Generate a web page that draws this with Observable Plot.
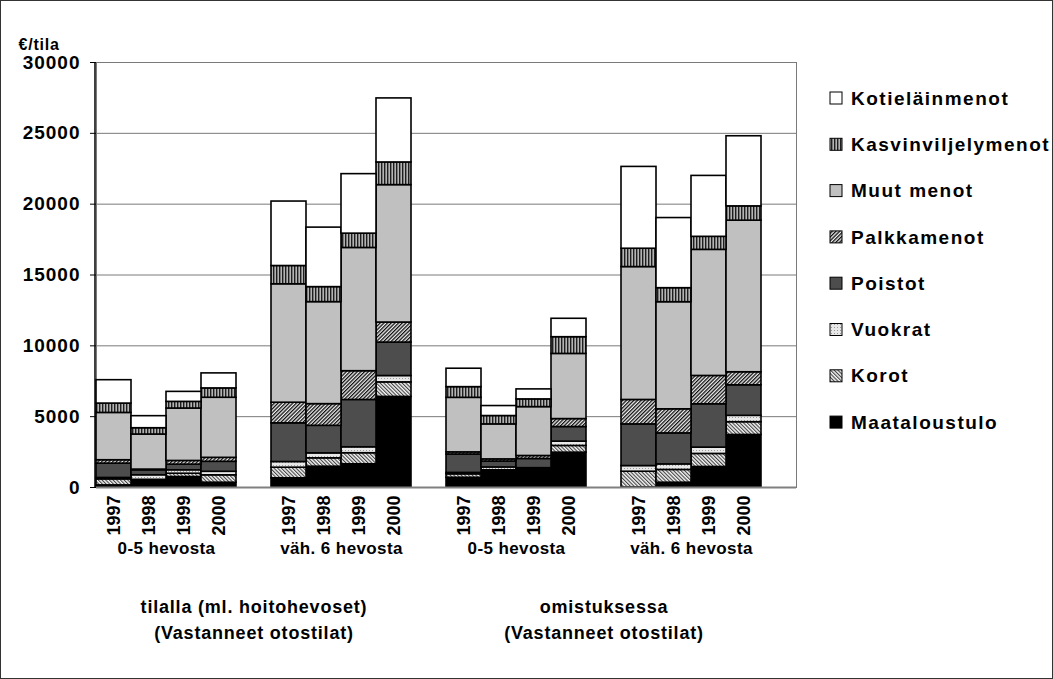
<!DOCTYPE html>
<html>
<head>
<meta charset="utf-8">
<script src="https://cdn.jsdelivr.net/npm/d3@7"></script>
<script src="https://cdn.jsdelivr.net/npm/@observablehq/plot@0.6"></script>
<style>
  html, body { margin: 0; padding: 0; background: white; }
  #chart { width: 1053px; height: 679px; }
</style>
</head>
<body>
<div id="chart"></div>
<script>
// ---- data ----
const years = ["1997", "1998", "1999", "2000"];
const sizeGroups = ["0-5 hevosta", "väh. 6 hevosta", "0-5 hevosta", "väh. 6 hevosta"];
const basisLine1 = ["tilalla (ml. hoitohevoset)", "omistuksessa"];
const basisLine2 = ["(Vastanneet otostilat)", "(Vastanneet otostilat)"];
const yTicks = [0, 5000, 10000, 15000, 20000, 25000, 30000];
const yLabel = "€/tila";
// stack order: bottom to top
const series = ["Maataloustulo", "Korot", "Vuokrat", "Poistot", "Palkkamenot", "Muut menot", "Kasvinviljelymenot", "Kotieläinmenot"];
// values: 4 groups x 4 years (1997..2000)
const maataloustulo      = [150, 495, 740, 340,   650, 1470, 1640, 6395,   690, 1165, 1165, 2460,   0, 340, 1450, 3710];
const korot              = [425, 50, 235, 520,    750, 590, 780, 1025,     240, 50, 100, 475,      1115, 900, 920, 900];
const vuokrat            = [100, 320, 240, 250,   400, 350, 420, 450,      100, 200, 100, 305,     400, 390, 445, 450];
const poistot            = [1010, 350, 400, 705,  2730, 1945, 3340, 2360,  1300, 420, 650, 1030,   2940, 2190, 3060, 2155];
const palkkamenot        = [240, 50, 260, 280,    1455, 1530, 2030, 1415,  150, 150, 210, 560,     1725, 1700, 2000, 920];
const muutMenot          = [3340, 2475, 3700, 4240, 8360, 7200, 8700, 9700, 3850, 2470, 3450, 4600, 9380, 7560, 8900, 10700];
const kasvinviljelymenot = [660, 445, 470, 660,   1290, 1060, 1010, 1600,  755, 590, 545, 1180,    1295, 990, 920, 1010];
const kotielainmenot     = [1650, 850, 705, 1060, 4550, 4200, 4200, 4520,  1300, 705, 705, 1300,   5775, 4950, 4300, 4950];
const seriesValues = [maataloustulo, korot, vuokrat, poistot, palkkamenot, muutMenot, kasvinviljelymenot, kotielainmenot];
const seriesFill = ["black", "url(#pKorot)", "url(#pVuokrat)", "#4d4d4d", "url(#pPalkka)", "#c0c0c0", "url(#pKasvin)", "white"];

// ---- slots (4 bars per group, one empty slot after each group) ----
const slots = [];
const barSlots = [];
sizeGroups.forEach((_, g) => {
  years.forEach(y => { slots.push(`${g}|${y}`); barSlots.push(`${g}|${y}`); });
  slots.push(`gap${g}`);
});

const rows = [];
series.forEach((s, si) => {
  seriesValues[si].forEach((v, i) => {
    rows.push({slot: `${Math.floor(i / 4)}|${years[i % 4]}`, series: s, value: v});
  });
});

// ---- layout ----
const W = 1053, H = 679;
const mL = 96, mR = 257, mT = 62, mB = 192;
const bw = (W - mL - mR) / slots.length;
const font = "'Liberation Sans', Arial, Helvetica, sans-serif";

const plot = Plot.plot({
  width: W, height: H,
  marginLeft: mL, marginRight: mR, marginTop: mT, marginBottom: mB,
  style: {fontFamily: font, background: "white", overflow: "visible", color: "black"},
  x: {domain: slots, padding: 0, axis: null},
  y: {domain: [0, 30000], axis: null},
  color: {domain: series, range: seriesFill},
  marks: [
    Plot.ruleY(yTicks, {stroke: "#7a7a7a", strokeWidth: 1}),
    Plot.frame({stroke: "#7a7a7a", strokeWidth: 1}),
    Plot.barY(rows, Plot.stackY({x: "slot", y: "value", fill: "series", stroke: "black", strokeWidth: 1.6, order: null})),
    Plot.ruleY([0], {stroke: "#808080", strokeWidth: 2}),
    Plot.axisY({ticks: yTicks, tickSize: 6, tickPadding: 10, tickFormat: d3.format("d"), fontSize: 19, fontWeight: "bold", label: null}),
    Plot.axisX({ticks: barSlots, tickSize: 0, tickPadding: 8, tickRotate: -90, tickFormat: d => d.split("|")[1], fontSize: 18, fontWeight: "bold", label: null}),
    Plot.text(sizeGroups.map((t, g) => ({slot: `${g}|1998`, t})), {x: "slot", text: "t", frameAnchor: "bottom", dx: bw / 2, dy: 66, fontSize: 17, fontWeight: "bold", className: "grp"}),
    Plot.text(basisLine1.map((t, i) => ({slot: `gap${i * 2}`, t})), {x: "slot", text: "t", frameAnchor: "bottom", dy: 125, fontSize: 18, fontWeight: "bold", className: "basis"}),
    Plot.text(basisLine2.map((t, i) => ({slot: `gap${i * 2}`, t})), {x: "slot", text: "t", frameAnchor: "bottom", dy: 151, fontSize: 18, fontWeight: "bold", className: "basis"}),
    Plot.text([yLabel], {frameAnchor: "top-left", dx: -78, dy: -24, textAnchor: "start", fontSize: 16, fontWeight: "bold", className: "ylab"})
  ]
});

const svg = d3.select(plot);
const defs = svg.insert("defs", ":first-child");
// vertical stripes
const pk = defs.append("pattern").attr("id", "pKasvin").attr("patternUnits", "userSpaceOnUse").attr("width", 3).attr("height", 3);
pk.append("rect").attr("width", 3).attr("height", 3).attr("fill", "#b4b4b4");
pk.append("rect").attr("width", 1.4).attr("height", 3).attr("fill", "#1e1e1e");
// diagonal hatch ///
const pp = defs.append("pattern").attr("id", "pPalkka").attr("patternUnits", "userSpaceOnUse").attr("width", 2.6).attr("height", 2.6).attr("patternTransform", "rotate(45)");
pp.append("rect").attr("width", 2.6).attr("height", 2.6).attr("fill", "#f0f0f0");
pp.append("rect").attr("width", 1.3).attr("height", 2.6).attr("fill", "#111");
// diagonal hatch \\\
const pkr = defs.append("pattern").attr("id", "pKorot").attr("patternUnits", "userSpaceOnUse").attr("width", 2.6).attr("height", 2.6).attr("patternTransform", "rotate(-45)");
pkr.append("rect").attr("width", 2.6).attr("height", 2.6).attr("fill", "#f4f4f4");
pkr.append("rect").attr("width", 1.1).attr("height", 2.6).attr("fill", "#444");
// light dots
const pv = defs.append("pattern").attr("id", "pVuokrat").attr("patternUnits", "userSpaceOnUse").attr("width", 3).attr("height", 3);
pv.append("rect").attr("width", 3).attr("height", 3).attr("fill", "#e8e8e8");
pv.append("rect").attr("width", 1).attr("height", 1).attr("fill", "#9a9a9a");

// left axis line
svg.append("line").attr("x1", mL - 1).attr("x2", mL - 1).attr("y1", mT).attr("y2", H - mB)
  .attr("stroke", "black").attr("stroke-width", 1.5);

// letter spacing tweaks
svg.selectAll("[aria-label='y-axis tick label'] text").style("letter-spacing", "1px");
svg.selectAll(".basis text").style("letter-spacing", "0.8px");
svg.selectAll(".grp text").style("letter-spacing", "0.4px");
svg.selectAll(".ylab text").style("letter-spacing", "0.8px");

// legend
const legendItems = series.slice().reverse();
const legendFills = seriesFill.slice().reverse();
const lg = svg.append("g").attr("font-family", font).attr("font-weight", "bold").attr("font-size", 19).attr("text-anchor", "start");
legendItems.forEach((s, i) => {
  const cy = 98 + i * 46.3;
  lg.append("rect").attr("x", 830).attr("y", cy - 6).attr("width", 12).attr("height", 12)
    .attr("fill", legendFills[i]).attr("stroke", "black").attr("stroke-width", 1);
  lg.append("text").attr("x", 851).attr("y", cy).attr("dy", "0.35em").attr("text-anchor", "start")
    .style("letter-spacing", "1.5px").text(s);
});

// outer border
svg.append("rect").attr("x", 0.5).attr("y", 0.5).attr("width", W - 1).attr("height", H - 1)
  .attr("fill", "none").attr("stroke", "#333").attr("stroke-width", 1);

document.getElementById("chart").appendChild(plot);
</script>
</body>
</html>
